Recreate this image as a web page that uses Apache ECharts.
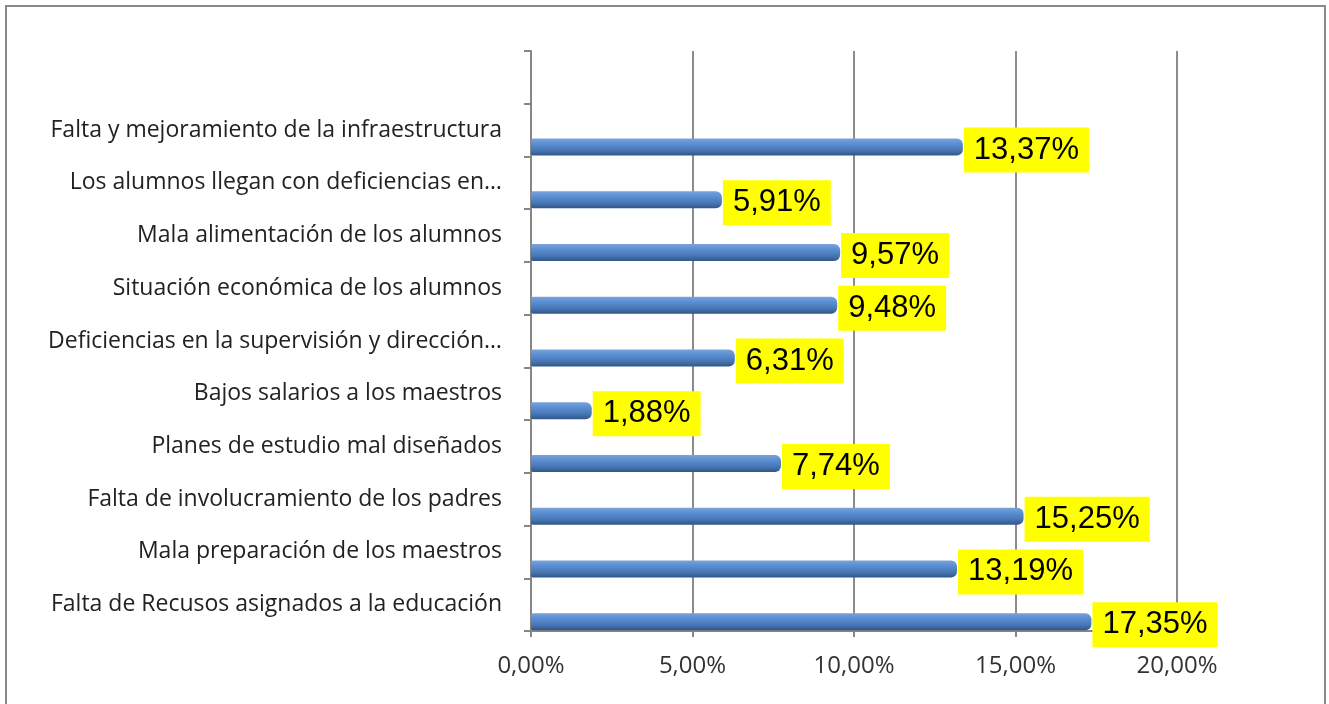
<!DOCTYPE html>
<html>
<head>
<meta charset="utf-8">
<script src="https://cdn.jsdelivr.net/npm/echarts@6/dist/echarts.min.js"></script>
<style>
  html, body { margin: 0; padding: 0; background: #fff; }
  #chart { width: 1329px; height: 704px; }
</style>
</head>
<body>
<div id="chart"></div>
<script>
// categories from bottom to top, the top slot is empty in the original
const categories = [
  'Falta de Recusos asignados a la educación',
  'Mala preparación de los maestros',
  'Falta de involucramiento de los padres',
  'Planes de estudio mal diseñados',
  'Bajos salarios a los maestros',
  'Deficiencias en la supervisión y dirección…',
  'Situación económica de los alumnos',
  'Mala alimentación de los alumnos',
  'Los alumnos llegan con deficiencias en…',
  'Falta y mejoramiento de la infraestructura',
  ''
]
const values = [17.35, 13.19, 15.25, 7.74, 1.88, 6.31, 9.48, 9.57, 5.91, 13.37, null]
// empty series only used to push the real bars to the lower part of each band
const spacer = categories.map(() => null)

const pct = v => v.toFixed(2).replace('.', ',') + '%'

const barColor = new echarts.graphic.LinearGradient(0, 0, 0, 1, [
  { offset: 0, color: '#7aa3d8' },
  { offset: 0.3, color: '#5b8fd4' },
  { offset: 0.7, color: '#4876b4' },
  { offset: 1, color: '#2f5687' },
])

const options = {
  animation: false,
  grid: { left: 531, right: 152, top: 51, bottom: 73, containLabel: false },
  xAxis: {
    type: 'value',
    min: 0,
    max: 20,
    interval: 5,
    axisLine: { show: true, lineStyle: { color: '#868686', width: 2 } },
    axisTick: { show: true, length: 6, lineStyle: { color: '#868686', width: 2 } },
    axisLabel: {
      margin: 23,
      color: '#333',
      fontSize: 24,
      fontFamily: 'Open Sans',
      formatter: v => pct(v),
    },
    splitLine: { show: true, lineStyle: { color: '#8c8c8c', width: 2 } },
  },
  yAxis: {
    type: 'category',
    data: categories,
    offset: 8,
    axisLine: { show: true, lineStyle: { color: '#868686', width: 2 } },
    axisTick: { show: true, length: 7, lineStyle: { color: '#868686', width: 2 } },
    axisLabel: {
      margin: 21,
      color: '#222',
      fontSize: 23,
      fontFamily: 'Open Sans',
      padding: [5, 0, 0, 0],
    },
  },
  series: [
    {
      type: 'bar',
      data: spacer,
      barWidth: 17,
      silent: true,
    },
    {
      type: 'bar',
      data: values,
      barWidth: 17,
      barGap: '100%',
      itemStyle: {
        color: barColor,
        borderRadius: [2, 6, 6, 2],
      },
      label: {
        show: true,
        position: 'right',
        distance: 1,
        offset: [0, 3],
        formatter: p => pct(p.value),
        backgroundColor: '#ffff00',
        color: '#000',
        fontSize: 31,
        lineHeight: 31,
        fontFamily: 'Liberation Sans',
        padding: [7, 10, 7, 10],
      },
    },
  ],
  graphic: [
    {
      type: 'rect',
      shape: { x: 6, y: 6, width: 1319, height: 720 },
      style: { fill: 'none', stroke: '#898989', lineWidth: 2 },
    },
  ],
}

const chart = echarts.init(document.getElementById('chart'))
chart.setOption(options)
window.onresize = function () {
  chart.resize()
}
</script>
</body>
</html>
